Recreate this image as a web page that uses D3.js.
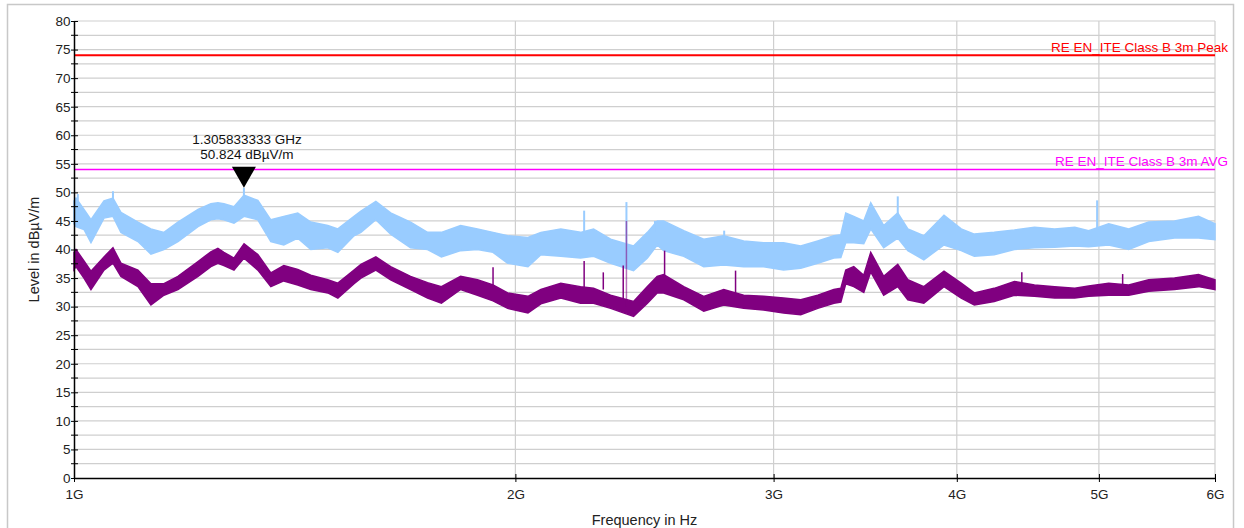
<!DOCTYPE html>
<html>
<head>
<meta charset="utf-8">
<script src="https://cdn.jsdelivr.net/npm/d3@7"></script>
<style>
  html, body { margin: 0; padding: 0; background: #fff; }
  svg { display: block; font-family: "Liberation Sans", Arial, sans-serif; }
</style>
</head>
<body>
<div id="chart"></div>
<script>
// frequency grid of the traces, in GHz
const freqGHz = [1.000, 1.0031, 1.0158, 1.0270, 1.0482, 1.0631, 1.0765, 1.1056, 1.1284, 1.1517,
  1.1773, 1.2150, 1.2398, 1.2535, 1.2654, 1.2856, 1.3061, 1.3347, 1.3622, 1.3902,
  1.4210, 1.4504, 1.4896, 1.5134, 1.5523, 1.5692, 1.6064, 1.6442, 1.6964, 1.7423,
  1.7806, 1.8352, 1.8843, 1.9309, 1.9759, 2.0398, 2.0817, 2.1477, 2.2153, 2.2612,
  2.3226, 2.4077, 2.4607, 2.4988, 2.5241, 2.6054, 2.6883, 2.7740, 2.8623, 2.9534,
  3.0474, 3.1304, 3.2154, 3.2976, 3.3340, 3.3600, 3.4024, 3.4563, 3.4944, 3.5662,
  3.6458, 3.7039, 3.7983, 3.9204, 4.0278, 4.1116, 4.2420, 4.3784, 4.5190, 4.6643,
  4.8143, 4.9201, 5.0775, 5.2398, 5.4071, 5.6305, 5.8465, 6.000]

// peak trace (light blue), upper / lower edge of the noise band, dBµV/m
const peakHi = [48.5, 49.0, 47.0, 45.2, 48.5, 49.0, 46.5, 44.8, 43.6, 43.0,
  44.8, 47.0, 48.0, 48.2, 48.0, 47.5, 49.5, 48.6, 45.2, 45.8,
  46.4, 44.8, 44.2, 43.6, 45.8, 46.7, 48.4, 46.4, 44.8, 43.0,
  43.0, 44.2, 43.6, 43.0, 42.4, 42.1, 43.0, 43.6, 43.0, 43.6,
  41.8, 40.6, 43.0, 45.0, 45.0, 43.3, 41.8, 42.4, 41.5, 41.2,
  41.2, 40.6, 41.5, 42.4, 42.6, 46.4, 45.8, 45.0, 48.2, 44.2,
  46.4, 43.6, 42.4, 46.0, 43.6, 42.7, 43.0, 43.4, 43.9, 43.6,
  43.9, 43.3, 44.5, 43.6, 44.8, 45.0, 45.8, 44.5]
const peakLo = [44.5, 44.0, 43.5, 41.2, 45.5, 45.8, 43.0, 41.4, 39.2, 40.0,
  41.4, 44.0, 45.2, 45.4, 45.2, 44.6, 45.8, 45.2, 41.4, 40.8,
  42.0, 40.0, 40.3, 39.5, 42.4, 43.0, 45.2, 42.7, 40.3, 40.0,
  38.7, 39.8, 40.0, 39.5, 37.6, 37.0, 39.1, 38.8, 38.5, 38.8,
  37.6, 36.3, 38.5, 40.8, 39.8, 38.8, 37.0, 37.3, 37.0, 37.0,
  36.4, 36.7, 37.6, 38.5, 38.6, 41.2, 41.2, 41.0, 43.6, 40.3,
  42.0, 39.8, 38.2, 40.8, 39.8, 38.8, 39.1, 40.0, 40.3, 40.4,
  40.6, 40.5, 40.8, 40.0, 41.4, 42.0, 42.0, 41.7]

// average trace (purple), upper / lower edge of the noise band
const avgHi = [39.5, 40.0, 38.0, 36.2, 38.7, 40.3, 37.6, 36.4, 34.0, 34.0,
  35.3, 37.9, 39.6, 40.2, 39.5, 38.5, 41.0, 39.1, 35.9, 37.2,
  36.5, 35.5, 34.7, 34.1, 36.4, 37.4, 38.7, 37.0, 35.3, 34.2,
  33.5, 35.3, 34.7, 33.8, 32.4, 31.8, 33.0, 34.1, 33.5, 33.2,
  32.0, 30.9, 33.5, 35.3, 35.6, 33.5, 31.8, 33.0, 32.0, 31.8,
  31.5, 31.2, 32.0, 33.0, 33.2, 36.4, 37.0, 35.5, 39.5, 35.3,
  37.4, 34.7, 33.5, 36.2, 34.1, 32.4, 33.2, 34.4, 33.8, 33.5,
  33.2, 33.6, 34.1, 33.8, 34.7, 35.0, 35.6, 34.7]
const avgLo = [36.5, 37.0, 35.0, 33.0, 36.4, 37.6, 35.3, 33.5, 30.3, 32.0,
  33.0, 35.3, 37.0, 37.6, 37.2, 36.4, 38.5, 36.4, 33.5, 34.5,
  33.8, 33.0, 32.4, 31.5, 34.0, 35.0, 36.4, 34.7, 33.0, 31.5,
  30.6, 33.0, 32.0, 31.0, 29.7, 28.9, 30.5, 31.5, 30.6, 30.6,
  29.7, 28.3, 30.6, 32.4, 32.4, 31.2, 29.2, 30.3, 29.7, 29.4,
  28.9, 28.6, 29.7, 30.6, 30.8, 34.0, 33.5, 32.5, 36.1, 32.0,
  33.5, 31.2, 30.6, 33.5, 31.5, 30.3, 30.9, 32.0, 31.8, 31.5,
  31.5, 31.8, 32.0, 32.0, 32.7, 33.0, 33.5, 33.0]

// single narrow spikes: [GHz, from, to]
const peakSpikes = [[1.0060, 47.5, 49.7], [1.0631, 48.0, 50.2], [1.3058, 48.5, 50.8],
  [2.2280, 43.0, 46.8], [2.3810, 41.0, 48.3], [2.4900, 43.0, 45.0],
  [2.7760, 42.0, 43.3], [3.6458, 46.0, 49.3], [4.9860, 43.5, 48.6]]
const avgSpikes = [[1.9310, 33.5, 36.9], [2.2280, 33.0, 38.0], [2.2960, 33.0, 36.0],
  [2.3690, 31.0, 37.2], [2.3810, 30.0, 45.0], [2.5280, 35.0, 39.8],
  [2.8260, 32.0, 36.3], [4.4300, 34.0, 36.0], [5.1900, 33.5, 35.7]]

const limitNames = ["RE EN_ITE Class B 3m Peak", "RE EN_ITE Class B 3m AVG"]
const limitLevels = [74, 54]

const markerGHz = 1.305833333
const markerLevel = 50.824

const xTicks = [1, 2, 3, 4, 5, 6]          // GHz
const yMajor = d3.range(0, 81, 5)
const yMinor = d3.range(2.5, 80, 5)

const width = 1244
const height = 528
const marginLeft = 74
const plotRight = 1215
const plotTop = 21
const plotBottom = 478
const fontSize = 13.5

const svg = d3.select("#chart").append("svg")
    .attr("width", width)
    .attr("height", height)
    .attr("viewBox", [0, 0, width, height])

// outer frame
svg.append("rect")
    .attr("x", 7.5).attr("y", 4.5)
    .attr("width", 1226).attr("height", 540)
    .attr("fill", "none")
    .attr("stroke", "#c8c8c8")
    .attr("stroke-width", 1.5)

const x = d3.scaleLog().domain([1e9, 6e9]).range([marginLeft, plotRight])
const y = d3.scaleLinear().domain([0, 80]).range([plotBottom, plotTop])
const X = freqGHz.map(f => f * 1e9)

// grid
const grid = svg.append("g").attr("stroke", "#cfcfcf").attr("stroke-width", 1.2)
grid.selectAll("line.h")
    .data(yMajor.concat(yMinor).filter(v => v > 0))
    .join("line")
    .attr("x1", marginLeft).attr("x2", plotRight)
    .attr("y1", d => y(d)).attr("y2", d => y(d))
grid.selectAll("line.v")
    .data(xTicks.slice(1))
    .join("line")
    .attr("x1", d => x(d * 1e9)).attr("x2", d => x(d * 1e9))
    .attr("y1", plotTop).attr("y2", plotBottom)

// traces as noise bands
const band = (hi, lo) => d3.area()
    .x((d, i) => x(X[i]))
    .y0((d, i) => y(lo[i]))
    .y1((d, i) => y(hi[i]))

svg.append("path")
    .datum(freqGHz)
    .attr("d", band(peakHi, peakLo))
    .attr("fill", "#99ccff")
    .attr("stroke", "#99ccff")
    .attr("stroke-width", 1.5)
svg.append("g")
    .attr("stroke", "#99ccff")
    .attr("stroke-width", 2)
    .selectAll("line")
    .data(peakSpikes)
    .join("line")
    .attr("x1", d => x(d[0] * 1e9)).attr("x2", d => x(d[0] * 1e9))
    .attr("y1", d => y(d[1])).attr("y2", d => y(d[2]))

svg.append("path")
    .datum(freqGHz)
    .attr("d", band(avgHi, avgLo))
    .attr("fill", "#800080")
    .attr("stroke", "#800080")
    .attr("stroke-width", 1.5)
svg.append("g")
    .attr("stroke", "#800080")
    .attr("stroke-width", 1.5)
    .selectAll("line")
    .data(avgSpikes)
    .join("line")
    .attr("stroke-opacity", d => d[2] > 42 ? 0.55 : 1)
    .attr("x1", d => x(d[0] * 1e9)).attr("x2", d => x(d[0] * 1e9))
    .attr("y1", d => y(d[1])).attr("y2", d => y(d[2]))

// limit lines
const limitColors = ["#ff0000", "#ff00ff"]
limitLevels.forEach((lv, i) => {
    svg.append("line")
        .attr("x1", marginLeft).attr("x2", plotRight)
        .attr("y1", y(lv)).attr("y2", y(lv))
        .attr("stroke", limitColors[i])
        .attr("stroke-width", i === 0 ? 2 : 1.5)
    svg.append("text")
        .attr("x", 1228).attr("y", y(lv) - 3.5)
        .attr("text-anchor", "end")
        .attr("font-size", fontSize)
        .attr("fill", limitColors[i])
        .text(limitNames[i])
})

// marker
const mx = x(markerGHz * 1e9)
const my = y(markerLevel)
svg.append("path")
    .attr("d", `M${mx - 12},${my - 21}L${mx + 12},${my - 21}L${mx},${my}Z`)
    .attr("fill", "#000")
svg.append("text")
    .attr("x", mx + 3).attr("y", my - 44)
    .attr("text-anchor", "middle")
    .attr("font-size", fontSize)
    .attr("fill", "#111")
    .text(markerGHz.toFixed(9) + " GHz")
svg.append("text")
    .attr("x", mx + 3).attr("y", my - 28.5)
    .attr("text-anchor", "middle")
    .attr("font-size", fontSize)
    .attr("fill", "#111")
    .text(markerLevel.toFixed(3) + " dBµV/m")

// axes
const xAxis = d3.axisBottom(x)
    .tickValues(xTicks.map(d => d * 1e9))
    .tickFormat(d => d / 1e9 + "G")
    .tickSize(4)
    .tickSizeOuter(0)
svg.append("g")
    .attr("transform", `translate(0,${plotBottom})`)
    .call(xAxis)
    .call(g => g.selectAll(".tick line").attr("y1", -4).attr("stroke", "#000"))
    .call(g => g.select(".domain").attr("stroke", "#000").attr("stroke-width", 1.5))
    .call(g => g.selectAll(".tick text")
        .attr("font-size", fontSize)
        .attr("font-family", "Liberation Sans, Arial, sans-serif")
        .attr("fill", "#222")
        .attr("dy", "1.0em"))

const yAxis = d3.axisLeft(y)
    .tickValues(yMajor)
    .tickSize(3)
    .tickSizeOuter(0)
svg.append("g")
    .attr("transform", `translate(${marginLeft},0)`)
    .call(yAxis)
    .call(g => g.select(".domain").attr("stroke", "#000").attr("stroke-width", 1.5))
    .call(g => g.selectAll(".tick line").attr("x2", 4).attr("x1", -3).attr("stroke", "#000"))
    .call(g => g.selectAll(".tick text")
        .attr("x", -3.5)
        .attr("font-size", fontSize)
        .attr("font-family", "Liberation Sans, Arial, sans-serif")
        .attr("fill", "#222"))

svg.append("g")
    .attr("stroke", "#000")
    .selectAll("line")
    .data(yMinor)
    .join("line")
    .attr("x1", marginLeft - 3).attr("x2", marginLeft + 4)
    .attr("y1", d => y(d)).attr("y2", d => y(d))

// axis titles
svg.append("text")
    .attr("x", (marginLeft + plotRight) / 2)
    .attr("y", 525)
    .attr("text-anchor", "middle")
    .attr("font-size", 14.5)
    .attr("fill", "#222")
    .text("Frequency in Hz")

svg.append("text")
    .attr("transform", `translate(39,${(plotTop + plotBottom) / 2}) rotate(-90)`)
    .attr("text-anchor", "middle")
    .attr("font-size", 14.5)
    .attr("fill", "#222")
    .text("Level in dBµV/m")
</script>
</body>
</html>
